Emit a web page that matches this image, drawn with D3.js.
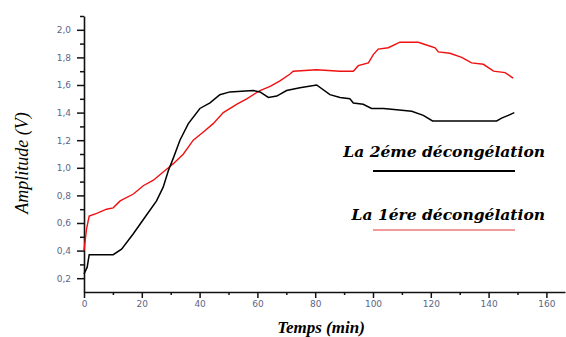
<!DOCTYPE html>
<html>
<head>
	<meta charset="utf-8">
	<script src="https://cdn.jsdelivr.net/npm/d3@7"></script>
	<title>Amplitude vs Temps</title>
	<style>
		body { margin: 0; background: #fff; }
		.tick text { font-family: "DejaVu Sans", sans-serif; }
	</style>
</head>
<body>
	<script>
		// --- data ---
		var secondTime = [0, 1.1, 1.8, 10.1, 13, 17, 21.7, 25.1, 27.4, 29.2, 30.9, 33.2, 36.1, 40.1, 43.6, 47, 50.5, 58.6, 60.9, 63.8, 66.7, 70.1, 74.7, 80.5, 85.1, 88.6, 92, 93.2, 96.6, 99.5, 103.6, 108.2, 113.4, 117.4, 120.6, 142.8, 144.5, 146.8, 148.9];
		var secondValues = [0.23, 0.28, 0.37, 0.37, 0.41, 0.52, 0.66, 0.76, 0.86, 0.98, 1.07, 1.2, 1.32, 1.43, 1.47, 1.53, 1.55, 1.56, 1.55, 1.51, 1.52, 1.56, 1.58, 1.6, 1.53, 1.51, 1.5, 1.47, 1.46, 1.43, 1.43, 1.42, 1.41, 1.38, 1.34, 1.34, 1.36, 1.38, 1.4];

		var firstTime = [0, 0.9, 1.8, 4.4, 7.8, 10.1, 12.5, 17.1, 20.5, 24, 27.4, 29.2, 30.9, 34.4, 37.8, 41.3, 44.7, 48.2, 52.8, 56.3, 60.9, 64.4, 67.8, 71.3, 72.4, 80.5, 88.6, 93.2, 94.9, 98.4, 100.1, 101.8, 105.3, 109.3, 115.7, 118.5, 121.5, 122.6, 126.6, 130.7, 134.1, 138.2, 141.7, 145.7, 148.5];
		var firstValues = [0.4, 0.56, 0.65, 0.67, 0.7, 0.71, 0.76, 0.81, 0.87, 0.91, 0.97, 1.0, 1.03, 1.1, 1.2, 1.26, 1.32, 1.4, 1.46, 1.5, 1.56, 1.59, 1.63, 1.68, 1.7, 1.71, 1.7, 1.7, 1.74, 1.76, 1.82, 1.86, 1.87, 1.91, 1.91, 1.89, 1.87, 1.84, 1.83, 1.8, 1.76, 1.75, 1.7, 1.69, 1.65];

		var xTicks = [0, 20, 40, 60, 80, 100, 120, 140, 160];
		var xMinorTicks = [10, 30, 50, 70, 90, 110, 130, 150];
		var yTicks = [0.2, 0.4, 0.6, 0.8, 1.0, 1.2, 1.4, 1.6, 1.8, 2.0];
		var yMinorTicks = [0.3, 0.5, 0.7, 0.9, 1.1, 1.3, 1.5, 1.7, 1.9, 2.1];

		var legendLabels = ['La 2éme décongélation', 'La 1ére décongélation'];

		var svgWidth = 566;
		var svgHeight = 337;
		var plotLeft = 84, plotRight = 565, plotTop = 16, plotBottom = 292;

		var svg = d3.select('body')
			.append('svg')
			.attr('width', svgWidth)
			.attr('height', svgHeight);

		var xScale = d3.scaleLinear()
			.domain([0, (plotRight - plotLeft) / 2.89])
			.range([plotLeft, plotRight]);

		var yScale = d3.scaleLinear()
			.domain([0.1, 2.1])
			.range([plotBottom, plotTop]);

		var fmtY = function (d) { return d3.format('.1f')(d).replace('.', ','); };

		// minor ticks first, then major axis on top
		svg.append('g')
			.attr('transform', 'translate(0,' + plotBottom + ')')
			.call(d3.axisBottom(xScale).tickValues(xMinorTicks).tickSize(3).tickFormat(''))
			.call(function (g) { g.select('.domain').remove(); });

		svg.append('g')
			.attr('transform', 'translate(' + plotLeft + ',0)')
			.call(d3.axisLeft(yScale).tickValues(yMinorTicks).tickSize(4).tickFormat(''))
			.call(function (g) { g.select('.domain').remove(); });

		svg.append('g')
			.attr('transform', 'translate(0,' + plotBottom + ')')
			.call(d3.axisBottom(xScale).tickValues(xTicks).tickSize(6).tickSizeOuter(0).tickPadding(3));

		svg.append('g')
			.attr('transform', 'translate(' + plotLeft + ',0)')
			.call(d3.axisLeft(yScale).tickValues(yTicks).tickFormat(fmtY).tickSize(7).tickSizeOuter(0).tickPadding(6));

		svg.selectAll('.tick line').attr('stroke', '#111').attr('stroke-width', 1.5);
		svg.selectAll('.domain').attr('stroke', '#111').attr('stroke-width', 1.6);
		svg.selectAll('.tick text')
			.attr('fill', '#5b6685')
			.style('font-size', '9px');

		// series
		var line = d3.line()
			.x(function (d) { return xScale(d[0]); })
			.y(function (d) { return yScale(d[1]); });

		svg.append('path')
			.datum(firstTime.map(function (t, i) { return [t, firstValues[i]]; }))
			.attr('fill', 'none')
			.attr('stroke', '#f01010')
			.attr('stroke-width', 1.4)
			.attr('d', line);

		svg.append('path')
			.datum(secondTime.map(function (t, i) { return [t, secondValues[i]]; }))
			.attr('fill', 'none')
			.attr('stroke', '#000')
			.attr('stroke-width', 1.5)
			.attr('d', line);

		// axis titles
		svg.append('text')
			.attr('x', 321)
			.attr('y', 333)
			.attr('text-anchor', 'middle')
			.style('font-family', '"Liberation Serif", serif')
			.style('font-style', 'italic')
			.style('font-weight', 'bold')
			.style('font-size', '17px')
			.text('Temps (min)');

		svg.append('text')
			.attr('transform', 'translate(28,163) rotate(-90)')
			.attr('text-anchor', 'middle')
			.style('font-family', '"Liberation Serif", serif')
			.style('font-style', 'italic')
			.style('font-size', '18px')
			.text('Amplitude (V)');

		// legend
		var legendColors = ['#000', '#e83838'];
		var legendY = [157, 220];
		var legendLineY = [171, 230];

		legendLabels.forEach(function (label, i) {
			svg.append('text')
				.attr('x', 545)
				.attr('y', legendY[i])
				.attr('text-anchor', 'end')
				.style('font-family', '"DejaVu Serif", serif')
				.style('font-style', 'italic')
				.style('font-weight', 'bold')
				.style('font-size', '15.5px')
				.text(label);

			svg.append('line')
				.attr('x1', 373)
				.attr('x2', 515)
				.attr('y1', legendLineY[i])
				.attr('y2', legendLineY[i])
				.attr('stroke', legendColors[i])
				.attr('stroke-width', i === 0 ? 2 : 1.2);
		});
	</script>
</body>
</html>
